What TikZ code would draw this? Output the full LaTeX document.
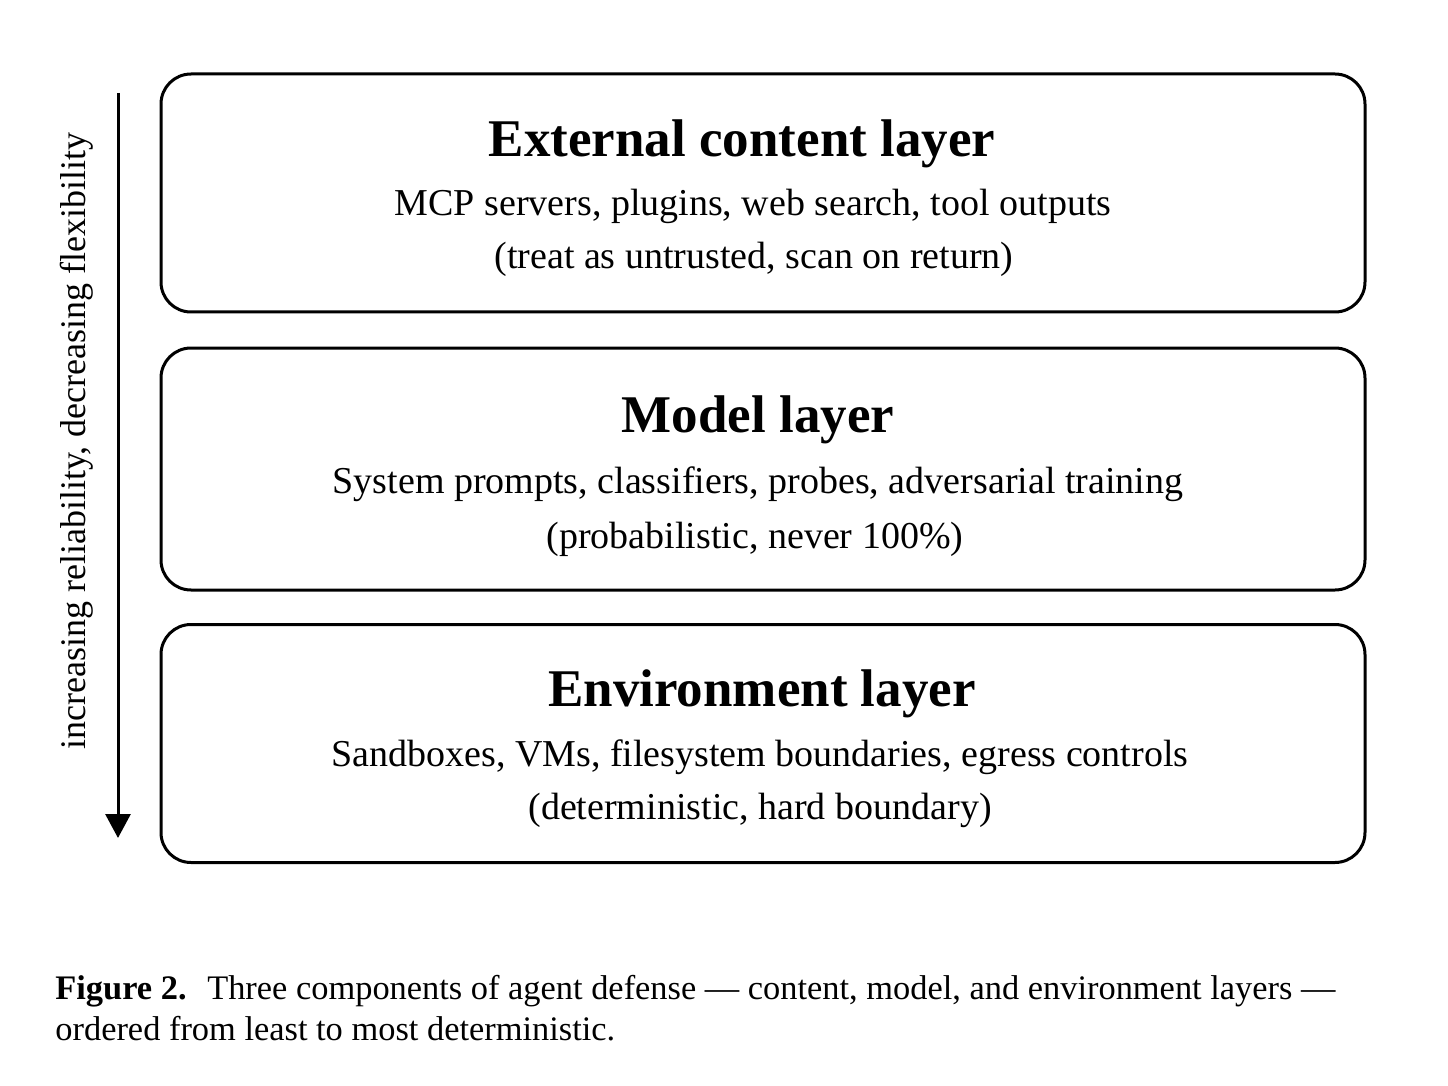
\documentclass[tikz,border=0pt]{standalone}
\usepackage{fontspec}
\setmainfont{Liberation Serif}
\usetikzlibrary{arrows.meta}
\begin{document}
\begin{tikzpicture}[x=0.5pt,y=-0.5pt,
  layerbox/.style={draw,line width=1.5pt,rounded corners=15pt,minimum width=602pt,minimum height=119pt,inner sep=0pt},
  titletext/.style={font=\fontsize{26.5}{30}\selectfont\bfseries,inner sep=0pt,anchor=base},
  bodytext/.style={font=\fontsize{19}{22}\selectfont,inner sep=0pt,anchor=base},
  captiontext/.style={font=\fontsize{17.2}{20}\selectfont,inner sep=0pt,anchor=base west}]
\useasboundingbox (0,0) rectangle (1448,1086);
\fill[white] (0,0) rectangle (1448,1086);
% boxes
\node[layerbox] (b1) at (763,193) {};
\node[layerbox,minimum height=121pt] (b2) at (763,469) {};
\node[layerbox] (b3) at (763,743.5) {};
% texts
\node[titletext] (t1) at (742,157) {External content layer};
\node[bodytext] (l1a) at (753,216) {MCP servers, plugins, web search, tool outputs};
\node[bodytext] (l1b) at (754,269) {(treat as untrusted, scan on return)};
\node[titletext] (t2) at (758,432) {Model layer};
\node[bodytext] (l2a) at (758,493) {System prompts, classifiers, probes, adversarial training};
\node[bodytext] (l2b) at (755,548) {(probabilistic, never 100\%)};
\node[titletext] (t3) at (762,706) {Environment layer};
\node[bodytext] (l3a) at (760,766) {Sandboxes, VMs, filesystem boundaries, egress controls};
\node[bodytext] (l3b) at (760,819) {(deterministic, hard boundary)};
% arrow
\coordinate (as) at (118,93);
\coordinate (ae) at (118,838);
\draw[line width=1.5pt,-{Triangle[length=12pt,width=12.5pt]}] (as) -- (ae);
\node[font=\fontsize{18}{20}\selectfont,inner sep=0pt,rotate=90,anchor=base] (al) at (85,441) {increasing reliability, decreasing flexibility};
% caption
\node[captiontext] (c1) at (55,999) {\textbf{Figure 2.}\hspace{0.6em}Three components of agent defense — content, model, and environment layers —};
\node[captiontext] (c2) at (55,1040) {ordered from least to most deterministic.};
\end{tikzpicture}
\end{document}
